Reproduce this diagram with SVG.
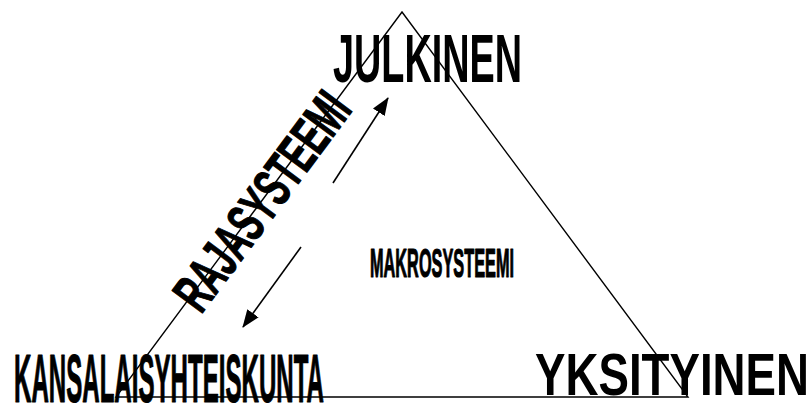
<svg xmlns="http://www.w3.org/2000/svg" width="812" height="407" viewBox="0 0 812 407">
<style>
.t{font-family:"Liberation Sans",Arial,sans-serif;font-weight:bold;fill:#000}
.h{stroke:#000;stroke-width:1.2;stroke-linejoin:round}
.ln{stroke:#000;stroke-width:1.4;fill:none}
.ar{stroke:#000;stroke-width:1.6;fill:none;marker-end:url(#ah)}
</style>
<defs>
<marker id="ah" markerWidth="18" markerHeight="14" refX="17" refY="7" orient="auto" markerUnits="userSpaceOnUse">
<path d="M0,0 L18,7 L0,14 Z" fill="#000"/>
</marker>
</defs>
<rect width="812" height="407" fill="#fff"/>
<g id="triangle">
<path class="ln" d="M402,12 L116,397 L688,397 Z"/>
</g>
<g id="connectors">
<line class="ar" x1="333" y1="183" x2="388" y2="98"/>
<line class="ar" x1="301" y1="247" x2="243" y2="327"/>
</g>
<g id="julkinen">
<text class="t" x="333" y="82" font-size="68" textLength="189" lengthAdjust="spacingAndGlyphs">JULKINEN</text>
</g>
<g id="kansalaisyhteiskunta">
<text class="t h" x="14" y="402" font-size="69" textLength="310" lengthAdjust="spacingAndGlyphs">KANSALAISYHTEISKUNTA</text>
</g>
<g id="yksityinen">
<text class="t" x="535" y="395" font-size="60" textLength="274" lengthAdjust="spacingAndGlyphs">YKSITYINEN</text>
</g>
<g id="makrosysteemi">
<text class="t h" x="370" y="277" font-size="40" textLength="144" lengthAdjust="spacingAndGlyphs">MAKROSYSTEEMI</text>
</g>
<g id="rajasysteemi">
<text class="t h" x="262" y="201" dy="19" font-size="55" text-anchor="middle" textLength="256" lengthAdjust="spacingAndGlyphs" transform="rotate(-53.4 262 201)">RAJASYSTEEMI</text>
</g>
</svg>
